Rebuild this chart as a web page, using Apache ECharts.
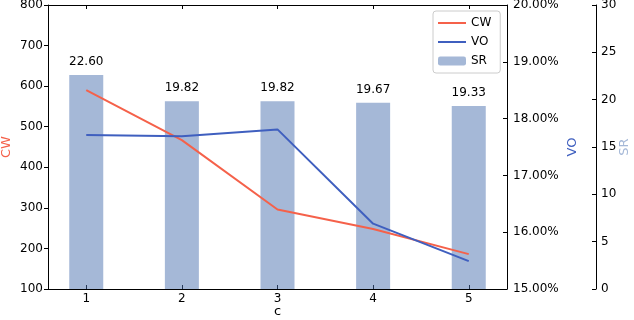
<!DOCTYPE html>
<html>
<head>
<meta charset="utf-8">
<script src="https://cdn.jsdelivr.net/npm/echarts@6/dist/echarts.min.js"></script>
<style>
html,body{margin:0;padding:0;background:#fff;}
#chart{width:634px;height:320px;}
</style>
</head>
<body>
<div id="chart"></div>
<script>
const categories = [1, 2, 3, 4, 5];
const cwValues = [590, 467, 296, 248, 186];
const voValues = [17.71, 17.69, 17.81, 16.15, 15.49];
const srValues = [22.60, 19.82, 19.82, 19.67, 19.33];
const cwTicks = [100, 200, 300, 400, 500, 600, 700, 800];
const voTicks = [15, 16, 17, 18, 19, 20];
const srTicks = [0, 5, 10, 15, 20, 25, 30];

const FONT = 'DejaVu Sans';
const CW_COLOR = '#f5614a';
const VO_COLOR = '#3f5fbf';
const SR_COLOR = 'rgba(76,114,176,0.5)';
const SR_NAME_COLOR = '#a5b8d7';

const pairs = (vals) => categories.map((c, i) => [c, vals[i]]);

const chart = echarts.init(document.getElementById('chart'), null, {renderer: 'canvas'});
const baseLabel = {fontFamily: FONT, fontSize: 12, color: '#000'};

chart.setOption({
  animation: false,
  backgroundColor: '#fff',
  textStyle: {fontFamily: FONT},
  grid: {left: 48, right: 127, top: 5, bottom: 31, containLabel: false, outerBoundsMode: 'none'},
  legend: {
    orient: 'vertical',
    left: 433, top: 11,
    padding: [5, 9, 5, 4],
    itemGap: 5,
    itemWidth: 28, itemHeight: 9,
    borderColor: '#cccccc', borderWidth: 1, borderRadius: 3,
    backgroundColor: 'rgba(255,255,255,0.8)',
    textStyle: {fontFamily: FONT, fontSize: 12, color: '#000', lineHeight: 14},
    data: [
      {name: 'CW', itemStyle: {opacity: 0}},
      {name: 'VO', itemStyle: {opacity: 0}},
      {name: 'SR'}
    ]
  },
  xAxis: [{
    type: 'value', min: 0.6, max: 5.4, position: 'bottom',
    name: 'c', nameLocation: 'middle', nameGap: 16, nameMoveOverlap: false,
    nameTextStyle: {fontFamily: FONT, fontSize: 13, color: '#000'},
    axisLine: {show: true, lineStyle: {color: '#000', width: 1}},
    axisTick: {show: true, inside: true, length: 4, customValues: categories, lineStyle: {color: '#000'}},
    axisLabel: Object.assign({margin: 4, customValues: categories, formatter: (v) => String(v)}, baseLabel),
    splitLine: {show: false}
  }, {
    type: 'value', min: 0.6, max: 5.4, position: 'top',
    axisLine: {show: true, lineStyle: {color: '#000', width: 1}},
    axisTick: {show: true, inside: true, length: 4, customValues: categories, lineStyle: {color: '#000'}},
    axisLabel: {show: false},
    splitLine: {show: false}
  }],
  yAxis: [{
    type: 'value', min: cwTicks[0], max: cwTicks[cwTicks.length - 1], interval: 100,
    position: 'left',
    name: 'CW', nameLocation: 'middle', nameGap: 35, nameRotate: 90, nameMoveOverlap: false,
    nameTextStyle: {fontFamily: FONT, fontSize: 13, color: CW_COLOR},
    axisLine: {show: true, lineStyle: {color: '#000', width: 1}},
    axisTick: {show: true, inside: false, length: 4, lineStyle: {color: '#000'}},
    axisLabel: Object.assign({margin: 5}, baseLabel),
    splitLine: {show: false}
  }, {
    type: 'value', min: voTicks[0], max: voTicks[voTicks.length - 1], interval: 1,
    position: 'right',
    name: 'VO', nameLocation: 'middle', nameGap: 59, nameRotate: 90, nameMoveOverlap: false,
    nameTextStyle: {fontFamily: FONT, fontSize: 13, color: VO_COLOR},
    axisLine: {show: true, lineStyle: {color: '#000', width: 1}},
    axisTick: {show: true, inside: true, length: 4, lineStyle: {color: '#000'}},
    axisLabel: Object.assign({margin: 6, formatter: (v) => v.toFixed(2) + '%'}, baseLabel),
    splitLine: {show: false}
  }, {
    type: 'value', min: srTicks[0], max: srTicks[srTicks.length - 1], interval: 5,
    position: 'right', offset: 89,
    name: 'SR', nameLocation: 'middle', nameGap: 22, nameRotate: 90, nameMoveOverlap: false,
    nameTextStyle: {fontFamily: FONT, fontSize: 13, color: SR_NAME_COLOR},
    axisLine: {show: true, lineStyle: {color: '#000', width: 1}},
    axisTick: {show: true, inside: true, length: 4, lineStyle: {color: '#000'}},
    axisLabel: Object.assign({margin: 5}, baseLabel),
    splitLine: {show: false}
  }],
  series: [{
    name: 'SR', type: 'bar', xAxisIndex: 0, yAxisIndex: 2,
    data: pairs(srValues), barWidth: 34, z: 1,
    itemStyle: {color: SR_COLOR},
    label: {show: true, position: 'top', distance: 7, fontFamily: FONT, fontSize: 12, color: '#000',
      formatter: (p) => p.value[1].toFixed(2)}
  }, {
    name: 'CW', type: 'line', xAxisIndex: 0, yAxisIndex: 0,
    data: pairs(cwValues), symbol: 'none', z: 3,
    lineStyle: {color: CW_COLOR, width: 2}, itemStyle: {color: CW_COLOR}
  }, {
    name: 'VO', type: 'line', xAxisIndex: 0, yAxisIndex: 1,
    data: pairs(voValues), symbol: 'none', z: 4,
    lineStyle: {color: VO_COLOR, width: 2}, itemStyle: {color: VO_COLOR}
  }]
});
</script>
</body>
</html>
